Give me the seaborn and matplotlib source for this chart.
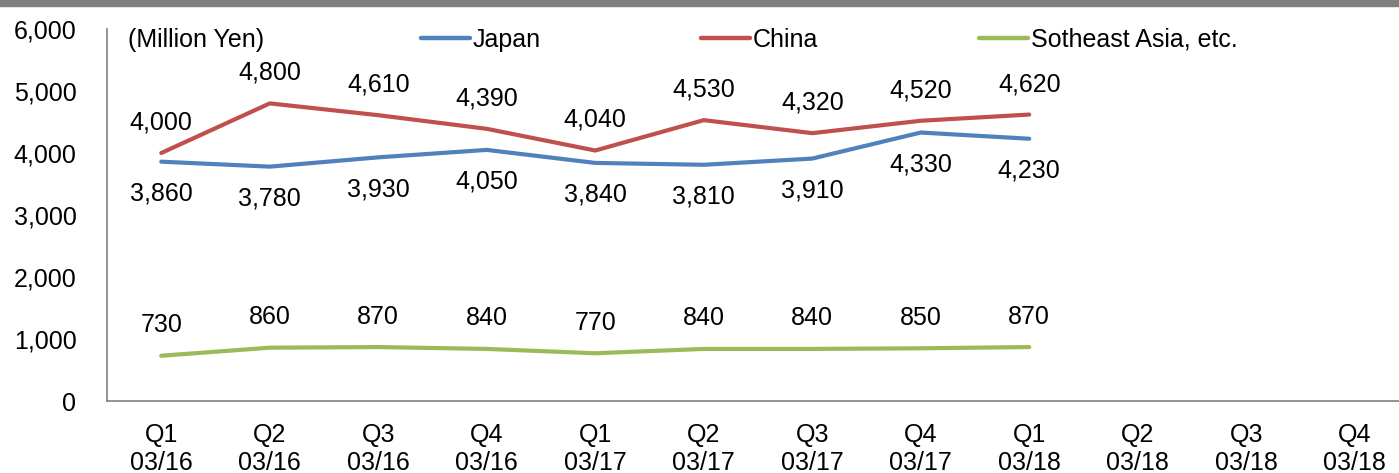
import numpy as np
import pandas as pd
import matplotlib
matplotlib.use("Agg")
import matplotlib.pyplot as plt
import seaborn as sns

quarters = ["Q1\n03/16", "Q2\n03/16", "Q3\n03/16", "Q4\n03/16",
            "Q1\n03/17", "Q2\n03/17", "Q3\n03/17", "Q4\n03/17",
            "Q1\n03/18", "Q2\n03/18", "Q3\n03/18", "Q4\n03/18"]
japan = [3860, 3780, 3930, 4050, 3840, 3810, 3910, 4330, 4230]
china = [4000, 4800, 4610, 4390, 4040, 4530, 4320, 4520, 4620]
sea = [730, 860, 870, 840, 770, 840, 840, 850, 870]
series_names = ["Japan", "China", "Sotheast Asia, etc."]
colors = ["#4F81BD", "#C0504D", "#9BBB59"]
yticks = [0, 1000, 2000, 3000, 4000, 5000, 6000]

sns.set_style("white")
plt.rcParams['font.family'] = ['Liberation Sans', 'DejaVu Sans']
plt.rcParams['text.color'] = 'black'
plt.rcParams['xtick.labelcolor'] = 'black'
plt.rcParams['ytick.labelcolor'] = 'black'
FS = 18

rows = []
for name, vals in zip(series_names, [japan, china, sea]):
    for i, v in enumerate(vals):
        rows.append({"pos": i, "value": v, "region": name})
df = pd.DataFrame(rows)

W, H = 1399, 473
fig = plt.figure(figsize=(W / 100, H / 100), dpi=100)
ax = fig.add_axes([107 / W, 1 - 401 / H, (1409 - 107) / W, (401 - 29) / H])

# gray top band
fig.patches.append(plt.Rectangle((0, 1 - 6 / H), 1, 6 / H, transform=fig.transFigure,
                                 color="#808080", zorder=0))

sns.lineplot(data=df, x="pos", y="value", hue="region", hue_order=series_names,
             palette=colors, linewidth=3.0, ax=ax, legend=True, sort=False)

ax.set_xlim(-0.5, len(quarters) - 0.5)
ax.set_ylim(0, 6000)
ax.set_yticks(yticks)
ax.set_yticklabels([f"{v:,}" for v in yticks])
ax.set_xticks(np.arange(len(quarters) + 1) - 0.5)
ax.set_xticklabels([])
ax.set_xticks(np.arange(len(quarters)), minor=True)
ax.set_xticklabels(quarters, minor=True)
ax.tick_params(axis="x", which="major", direction="out", length=5, width=1, color="#808080")
ax.tick_params(axis="x", which="minor", length=0, pad=16, labelsize=FS, labelcolor="black")
ax.tick_params(axis="y", direction="out", length=5, width=1, color="#808080", pad=17,
               labelsize=FS, labelcolor="black")
ax.set_xlabel("")
ax.set_ylabel("")
for s in ["top", "right"]:
    ax.spines[s].set_visible(False)
for s in ["left", "bottom"]:
    ax.spines[s].set_color("#808080")
    ax.spines[s].set_linewidth(1.2)
ax.spines["bottom"].set_zorder(0.5)

# data labels
offsets = {"Japan": -23, "China": 22, "Sotheast Asia, etc.": 22}
for name, vals in zip(series_names, [japan, china, sea]):
    for i, v in enumerate(vals):
        ax.annotate(f"{v:,}", (i, v), xytext=(0, offsets[name]), textcoords="offset points",
                    ha="center", va="center", fontsize=FS, color="black")

ax.text(128 / W, 1 - 40 / H, "(Million Yen)", transform=fig.transFigure,
        fontsize=FS, ha="left", va="center", color="black")

handles, labels = ax.get_legend_handles_labels()
for h in handles:
    h.set_linewidth(3.2)
leg = ax.legend(handles, labels, loc="center left", bbox_to_anchor=(411 / W, 1 - 40 / H),
                bbox_transform=fig.transFigure, ncol=3, frameon=False, fontsize=FS,
                handlelength=1.95, handletextpad=0.12, columnspacing=6.42, borderpad=0.4,
                borderaxespad=0)
for t in leg.get_texts():
    t.set_color("black")

fig.savefig("out.png", dpi=100)
